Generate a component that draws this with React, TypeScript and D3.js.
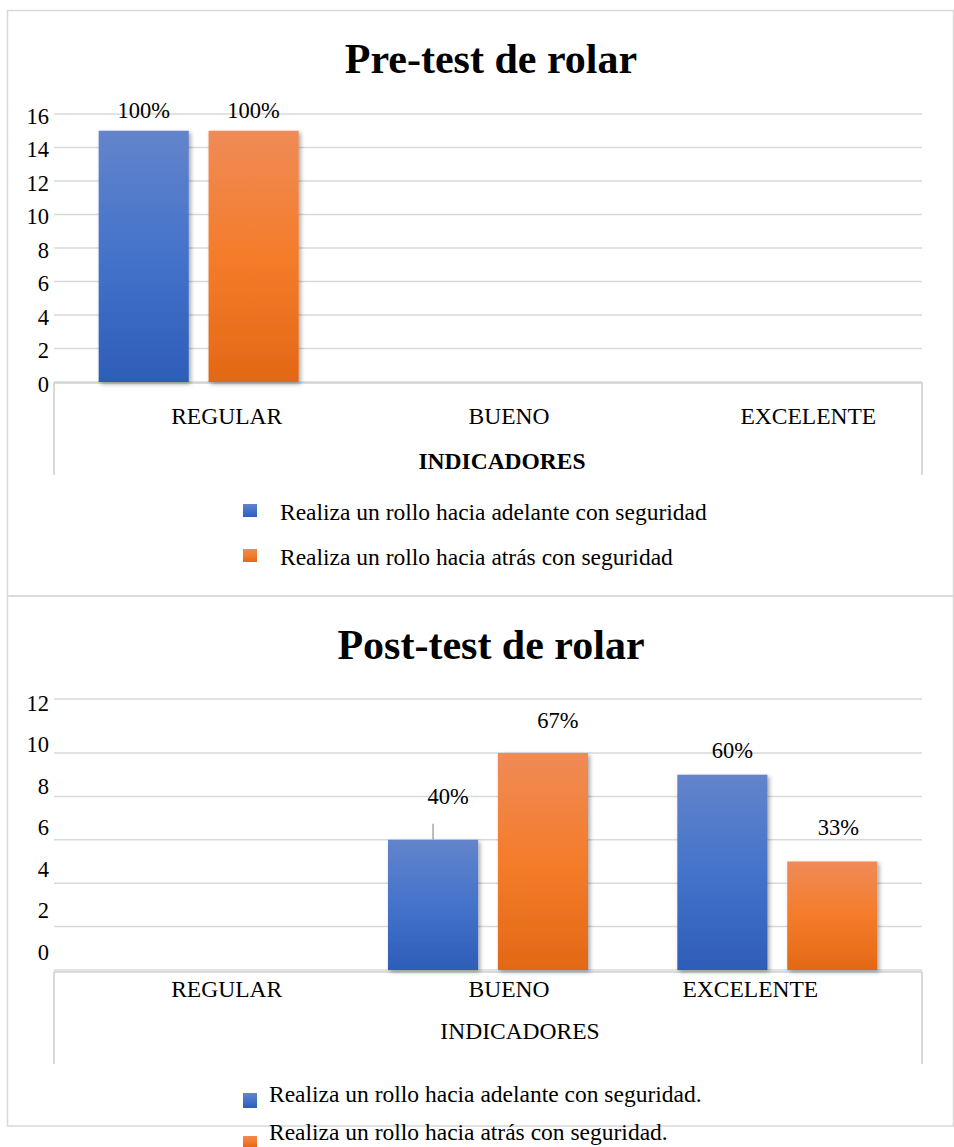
import React from "react";
import * as d3 from "d3";

// Indicator categories shared by both charts
const categories = ["REGULAR", "BUENO", "EXCELENTE"];

// Number of students evaluated (percent labels are value / total)
const totalStudents = 15;

// Pre-test counts
const preAdelante = [15, 0, 0];
const preAtras = [15, 0, 0];

// Post-test counts
const postAdelante = [0, 6, 9];
const postAtras = [0, 10, 5];

// Y axis ticks
const preTicks = [0, 2, 4, 6, 8, 10, 12, 14, 16];
const postTicks = [0, 2, 4, 6, 8, 10, 12];

// Legend texts
const preLegend = [
  "Realiza un rollo hacia adelante con seguridad",
  "Realiza un rollo hacia atrás con seguridad",
];
const postLegend = [
  "Realiza un rollo hacia adelante con seguridad.",
  "Realiza un rollo hacia atrás con seguridad.",
];

const FONT = "'Liberation Serif', 'Times New Roman', serif";
const pct = d3.format(".0%");
const FS = 23.5;

type Panel = {
  id: string;
  title: string;
  titleY: number;
  box: [number, number];
  series: number[][];
  legend: string[];
  ticks: number[];
  y: d3.ScaleLinear<number, number>;
  yLabel: d3.ScaleLinear<number, number>;
  axisY: number;
  boxBottom: number;
  catY: number;
  catShift: number[];
  axisTitleY: number;
  axisTitleBold: boolean;
  labelNudge: [number, number][][];
  leader: boolean[][];
  legendX: number;
  legendRows: { sq: number; text: number; h: number }[];
};

const x0 = d3.scaleBand<string>().domain(categories).range([54, 922]);
const groupW = 200;
const x1 = d3
  .scaleBand<number>()
  .domain([0, 1])
  .range([0, groupW])
  .paddingInner(0.18);

const panels: Panel[] = [
  {
    id: "pre",
    title: "Pre-test de rolar",
    titleY: 73,
    box: [10.5, 596],
    series: [preAdelante, preAtras],
    legend: preLegend,
    ticks: preTicks,
    y: d3.scaleLinear().domain([0, 16]).range([382, 114]),
    yLabel: d3.scaleLinear().domain([0, 16]).range([384, 116]),
    axisY: 383,
    boxBottom: 475,
    catY: 424,
    catShift: [28, 21, 31],
    axisTitleY: 469,
    axisTitleBold: true,
    labelNudge: [
      [[0, -13], [0, 0], [0, 0]],
      [[0, -13], [0, 0], [0, 0]],
    ],
    leader: [
      [false, false, false],
      [false, false, false],
    ],
    legendX: 280,
    legendRows: [
      { sq: 504, text: 520, h: 13 },
      { sq: 549, text: 565, h: 13 },
    ],
  },
  {
    id: "post",
    title: "Post-test de rolar",
    titleY: 659,
    box: [596, 1126],
    series: [postAdelante, postAtras],
    legend: postLegend,
    ticks: postTicks,
    y: d3.scaleLinear().domain([0, 10, 12]).range([970, 753, 699]),
    yLabel: d3.scaleLinear().domain([0, 12]).range([952, 703]),
    axisY: 972,
    boxBottom: 1064,
    catY: 997,
    catShift: [28, 21, -27],
    axisTitleY: 1039,
    axisTitleBold: false,
    labelNudge: [
      [[0, 0], [15, -36], [10, -17]],
      [[0, 0], [15, -25], [6, -27]],
    ],
    leader: [
      [false, true, false],
      [false, false, false],
    ],
    legendX: 269,
    legendRows: [
      { sq: 1093, text: 1102, h: 15 },
      { sq: 1136, text: 1140, h: 11 },
    ],
  },
];

const gradients = [
  { id: "gBlue", stops: ["#6384cb", "#4473ca", "#2d5db8"] },
  { id: "gOrange", stops: ["#ef8b57", "#f47c2a", "#e36816"] },
];

export default function App() {
  return (
    <svg
      width={954}
      height={1147}
      style={{ position: "absolute", left: 0, top: 0, background: "#fff" }}
      fontFamily={FONT}
    >
      <defs>
        {gradients.map((g) => (
          <linearGradient key={g.id} id={g.id} x1="0" y1="0" x2="0" y2="1">
            <stop offset="0%" stopColor={g.stops[0]} />
            <stop offset="50%" stopColor={g.stops[1]} />
            <stop offset="100%" stopColor={g.stops[2]} />
          </linearGradient>
        ))}
        <filter id="barShadow" x="-20%" y="-10%" width="140%" height="130%">
          <feDropShadow dx="2" dy="2" stdDeviation="2" floodColor="#000" floodOpacity="0.35" />
        </filter>
      </defs>
      <rect width={954} height={1147} fill="#fff" />
      {panels.map((p) => (
        <g key={p.id}>
          {/* chart frame */}
          <rect
            x={7.5}
            y={p.box[0]}
            width={946}
            height={p.box[1] - p.box[0]}
            fill="none"
            stroke="#d9d9d9"
            strokeWidth={1.5}
          />
          {/* title */}
          <text
            x={491}
            y={p.titleY}
            textAnchor="middle"
            fontSize={42}
            fontWeight="bold"
            fill="#000"
          >
            {p.title}
          </text>
          {/* gridlines */}
          {p.ticks.map((t) => (
            <line
              key={"g" + t}
              x1={54}
              x2={922}
              y1={p.y(t)}
              y2={p.y(t)}
              stroke="#d9d9d9"
              strokeWidth={1.5}
            />
          ))}
          {/* y tick labels */}
          {p.ticks.map((t) => (
            <text
              key={"t" + t}
              x={49}
              y={p.yLabel(t)}
              dy="0.35em"
              textAnchor="end"
              fontSize={22.5}
              fill="#000"
            >
              {t}
            </text>
          ))}
          {/* category axis box */}
          <path
            d={`M54,${p.boxBottom}V${p.axisY}H922V${p.boxBottom}`}
            fill="none"
            stroke="#d0d0d0"
            strokeWidth={1.6}
          />
          {/* bars */}
          {p.series.map((vals, si) =>
            vals.map((v, ci) =>
              v > 0 ? (
                <rect
                  key={`b${si}-${ci}`}
                  x={(x0(categories[ci]) as number) + (x0.bandwidth() - groupW) / 2 + (x1(si) as number)}
                  y={p.y(v)}
                  width={x1.bandwidth()}
                  height={p.y(0) - p.y(v)}
                  fill={`url(#${gradients[si].id})`}
                  filter="url(#barShadow)"
                />
              ) : null
            )
          )}
          {/* data labels */}
          {p.series.map((vals, si) =>
            vals.map((v, ci) => {
              if (v <= 0) return null;
              const cx =
                (x0(categories[ci]) as number) +
                (x0.bandwidth() - groupW) / 2 +
                (x1(si) as number) +
                x1.bandwidth() / 2;
              const [dx, dy] = p.labelNudge[si][ci];
              return (
                <g key={`l${si}-${ci}`}>
                  {p.leader[si][ci] ? (
                    <line
                      x1={cx}
                      x2={cx}
                      y1={p.y(v)}
                      y2={p.y(v) - 16}
                      stroke="#a6a6a6"
                      strokeWidth={1.5}
                    />
                  ) : null}
                  <text
                    x={cx + dx}
                    y={p.y(v) + dy}
                    textAnchor="middle"
                    fontSize={22.5}
                    fill="#000"
                  >
                    {pct(v / totalStudents)}
                  </text>
                </g>
              );
            })
          )}
          {/* category labels */}
          {categories.map((c, ci) => (
            <text
              key={"c" + c}
              x={(x0(c) as number) + x0.bandwidth() / 2 + p.catShift[ci]}
              y={p.catY}
              textAnchor="middle"
              fontSize={FS}
              fill="#000"
            >
              {c}
            </text>
          ))}
          {/* axis title */}
          <text
            x={p.axisTitleBold ? 502 : 520}
            y={p.axisTitleY}
            textAnchor="middle"
            fontSize={FS}
            fontWeight={p.axisTitleBold ? "bold" : "normal"}
            fill="#000"
          >
            INDICADORES
          </text>
          {/* legend */}
          {p.legend.map((name, li) => (
            <g key={"lg" + li}>
              <rect
                x={243}
                y={p.legendRows[li].sq}
                width={14}
                height={p.legendRows[li].h}
                fill={`url(#${gradients[li].id})`}
              />
              <text
                x={p.legendX}
                y={p.legendRows[li].text}
                fontSize={FS}
                fill="#000"
              >
                {name}
              </text>
            </g>
          ))}
        </g>
      ))}
    </svg>
  );
}
